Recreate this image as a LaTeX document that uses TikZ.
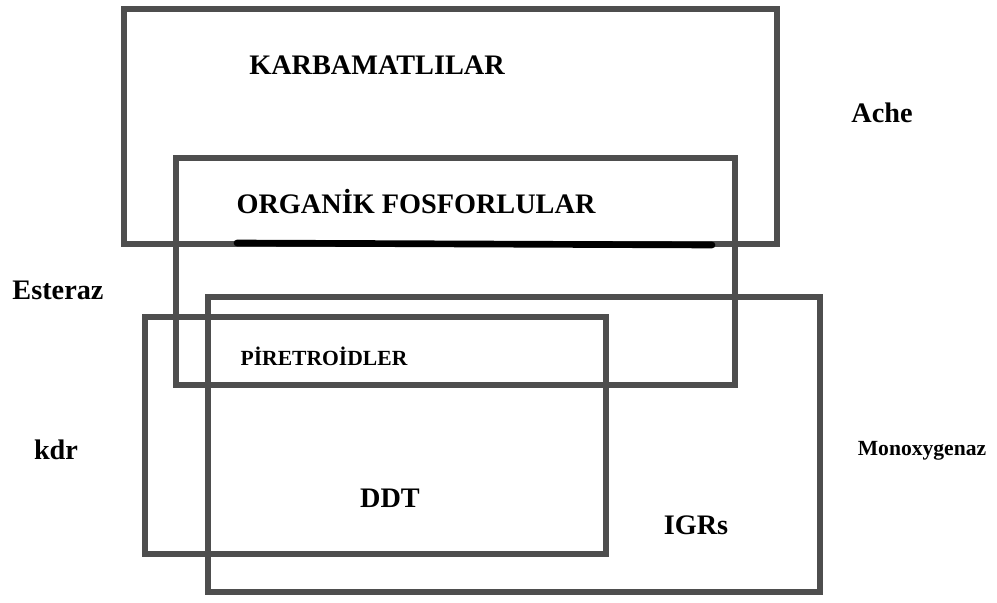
\documentclass[tikz,border=0pt]{standalone}
\usepackage{fontspec}
\setmainfont{Liberation Serif}
\definecolor{boxgray}{RGB}{78,78,78}
\tikzset{
  groupbox/.style={draw=boxgray, line width=5.2pt},
  biglabel/.style={font=\bfseries\fontsize{21.2}{23}\selectfont, inner sep=0pt},
  smalllabel/.style={font=\bfseries\fontsize{16.2}{18}\selectfont, inner sep=0pt}
}
\begin{document}
\begin{tikzpicture}[x=0.75pt, y=-0.75pt]
		\useasboundingbox (0,0) rectangle (997,603);
		% Groups
		\draw[groupbox] (124,9) rectangle (777,244);
		\draw[groupbox] (176,158) rectangle (735,385);
		\draw[groupbox] (208,297) rectangle (820,592);
		\draw[groupbox] (145,317) rectangle (606,554);
		% Underline
		\draw[line width=5pt, line cap=round] (237,243) -- (712,245);
		% Insecticides
		\node[biglabel] (karb) at (377,65) {KARBAMATLILAR};
		\node[biglabel] (orgf) at (416,202) {ORGANİK FOSFORLULAR};
		\node[smalllabel] (pire) at (324,356) {PİRETROİDLER};
		\node[biglabel] (ddt) at (390,498) {DDT};
		\node[biglabel] (igr) at (696,525) {IGRs};
		% Mechanisms
		\node[biglabel] (ache) at (882,113) {Ache};
		\node[biglabel] (ester) at (58,290) {Esteraz};
		\node[biglabel] (kdr) at (56,450) {kdr};
		\node[smalllabel] (mono) at (922,451) {Monoxygenaz};
	\end{tikzpicture}
\end{document}
